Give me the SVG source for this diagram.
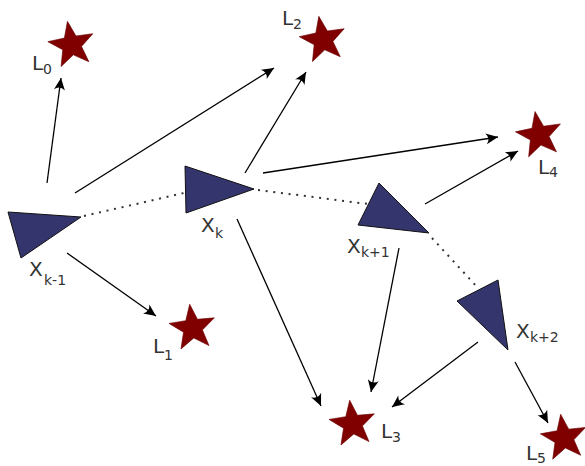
<svg xmlns="http://www.w3.org/2000/svg" xmlns:xlink="http://www.w3.org/1999/xlink" width="585" height="466" viewBox="0 0 585 466">
<style>
.star{fill:#800000;stroke:#6a0000;stroke-width:0.6}
.tri{fill:#35356e;stroke:#111;stroke-width:1}
.arr{fill:none;stroke:#000;stroke-width:1.3;marker-end:url(#ah)}
.dot{fill:none;stroke:#333;stroke-width:2;stroke-dasharray:2 5.7}
.lbl{font-family:"DejaVu Sans",sans-serif;font-size:20px;fill:#333}
.sub{font-size:14px}
</style>
<defs>
<marker id="ah" markerUnits="userSpaceOnUse" markerWidth="16" markerHeight="14" viewBox="-14 -7 16 14" refX="0" refY="0" orient="auto" overflow="visible">
<path d="M0,0 L-12,-5.5 Q-7.5,0 -12,5.5 Z" fill="#000"/>
</marker>
<path id="star" d="M0,-24 L5.88,-8.09 L22.83,-7.42 L9.51,3.09 L14.11,19.42 L0,10 L-14.11,19.42 L-9.51,3.09 L-22.83,-7.42 L-5.88,-8.09 Z"/>
</defs>
<rect width="585" height="466" fill="#fff"/>
<g id="connectors">
<path class="dot" d="M84,216 L184,193"/>
<path class="dot" d="M258,190 L368,204"/>
<path class="dot" d="M432,238 L478,288"/>
<path class="arr" d="M47,183 L61,78"/>
<path class="arr" d="M75,193 L274,68"/>
<path class="arr" d="M245,173 L306,72"/>
<path class="arr" d="M263,173 L498,137"/>
<path class="arr" d="M425,204 L518,151"/>
<path class="arr" d="M67,253 L156,316"/>
<path class="arr" d="M237,219 L321,406"/>
<path class="arr" d="M399,248 L371,392"/>
<path class="arr" d="M478,342 L392,407"/>
<path class="arr" d="M515,362 L548,423"/>
</g>
<g id="L0"><use xlink:href="#star" class="star" transform="translate(71.6,45) rotate(-10)"/><text class="lbl" x="32" y="70">L<tspan class="sub" x="43" y="74">0</tspan></text></g>
<g id="L1"><use xlink:href="#star" class="star" transform="translate(192.6,328) rotate(-7)"/><text class="lbl" x="153" y="353">L<tspan class="sub" x="164" y="360">1</tspan></text></g>
<g id="L2"><use xlink:href="#star" class="star" transform="translate(323,40) rotate(-10)"/><text class="lbl" x="282" y="25">L<tspan class="sub" x="293" y="29">2</tspan></text></g>
<g id="L3"><use xlink:href="#star" class="star" transform="translate(352.6,424) rotate(-7)"/><text class="lbl" x="381" y="438">L<tspan class="sub" x="392" y="442">3</tspan></text></g>
<g id="L4"><use xlink:href="#star" class="star" transform="translate(539.2,135.2) rotate(-10)"/><text class="lbl" x="538" y="174">L<tspan class="sub" x="549" y="177">4</tspan></text></g>
<g id="L5"><use xlink:href="#star" class="star" transform="translate(564,438) rotate(-8)"/><text class="lbl" x="526" y="460">L<tspan class="sub" x="537" y="463">5</tspan></text></g>
<g id="Xkm1"><polygon class="tri" points="8,212 81,217 21,258"/><text class="lbl" x="29" y="276">X<tspan class="sub" x="44" y="285">k-1</tspan></text></g>
<g id="Xk"><polygon class="tri" points="185,166 254,189 186,213"/><text class="lbl" x="201" y="232">X<tspan class="sub" x="215" y="238">k</tspan></text></g>
<g id="Xkp1"><polygon class="tri" points="379,183 358,225 429,233"/><text class="lbl" x="347" y="253">X<tspan class="sub" x="361" y="257">k+1</tspan></text></g>
<g id="Xkp2"><polygon class="tri" points="498,280 457,301 508,350"/><text class="lbl" x="516" y="338">X<tspan class="sub" x="530" y="342">k+2</tspan></text></g>
</svg>
